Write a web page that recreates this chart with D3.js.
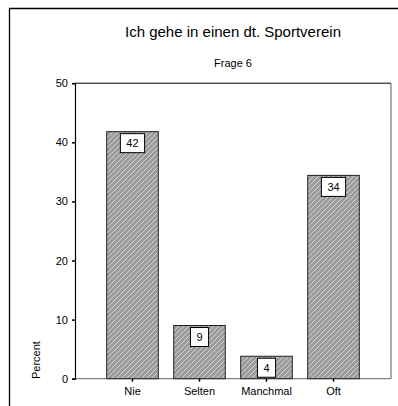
<!DOCTYPE html>
<html><head><meta charset="utf-8">
<script src="https://cdn.jsdelivr.net/npm/d3@7"></script>
<style>body{margin:0;background:#fff}svg{display:block}text{font-family:Arial,"Liberation Sans",sans-serif;fill:#000}</style>
</head><body>
<svg id="c" width="398" height="406"></svg>
<script>
const categories = ["Nie", "Selten", "Manchmal", "Oft"];
const values = [41.8, 9.0, 3.8, 34.4];
const labels = ["42", "9", "4", "34"];
const yTicks = [0, 10, 20, 30, 40, 50];
const title = "Ich gehe in einen dt. Sportverein";
const subtitle = "Frage 6";
const yLabel = "Percent";

const svg = d3.select("#c");
const L = 75, R = 391, T = 83.2, B = 378.7;

// outer frame
svg.append("path").attr("d", "M9.5,406 V8.5 H398").attr("fill","none").attr("stroke","#000").attr("stroke-width",1.3);

// hatch pattern ("/" stripes)
const defs = svg.append("defs");
const s = 5;
const pat = defs.append("pattern").attr("id","hatch").attr("patternUnits","userSpaceOnUse")
  .attr("width",s).attr("height",s);
pat.append("rect").attr("width",s).attr("height",s).attr("fill","#9c9c9c");
pat.append("path").attr("d",`M0,${s} L${s},0 M-1,1 L1,-1 M${s-1},${s+1} L${s+1},${s-1}`)
  .attr("stroke","#d8d8d8").attr("stroke-width",0.9);

const x = d3.scaleBand().domain(categories).range([L, R]).paddingInner(0.23).paddingOuter(0.473);
const y = d3.scaleLinear().domain([0, 50]).range([B, T]);

// title
svg.append("text").attr("x",233).attr("y",37).attr("text-anchor","middle").style("font-size","15px").text(title);
svg.append("text").attr("x",233).attr("y",67).attr("text-anchor","middle").style("font-size","11px").text(subtitle);

// plot frame: top black, right gray, bottom gray
svg.append("line").attr("x1",L).attr("x2",R).attr("y1",T).attr("y2",T).attr("stroke","#000").attr("stroke-width",1);
svg.append("line").attr("x1",R).attr("x2",R).attr("y1",T).attr("y2",B).attr("stroke","#808080").attr("stroke-width",1.3);
svg.append("line").attr("x1",L).attr("x2",R).attr("y1",B).attr("y2",B).attr("stroke","#808080").attr("stroke-width",1.3);

// bars
svg.selectAll("rect.bar").data(values).join("rect").attr("class","bar")
  .attr("x",(d,i)=>x(categories[i])).attr("width",x.bandwidth())
  .attr("y",d=>y(d)).attr("height",d=>B-y(d))
  .attr("fill","url(#hatch)").attr("stroke","#222").attr("stroke-width",1);

// value labels
const lg = svg.selectAll("g.lab").data(values).join("g").attr("class","lab");
lg.each(function(d,i){
  const g = d3.select(this);
  const cx = x(categories[i]) + x.bandwidth()/2;
  const t = g.append("text").attr("x",cx).attr("y",y(d)+15.5).attr("text-anchor","middle").style("font-size","11px").text(labels[i]);
  const w = t.node().getComputedTextLength() + 12;
  g.insert("rect","text").attr("x",cx-w/2).attr("y",y(d)+2).attr("width",w).attr("height",19)
    .attr("fill","#fff").attr("stroke","#000").attr("stroke-width",1);
});

// y axis
const yAxis = d3.axisLeft(y).tickValues(yTicks).tickSize(3).tickPadding(4);
const ya = svg.append("g").attr("transform",`translate(${L},0)`).call(yAxis);
ya.select(".domain").attr("stroke","#000").attr("stroke-width",1.2);
ya.selectAll(".tick line").attr("stroke","#000").attr("stroke-width",1.5);
ya.selectAll(".tick text").style("font-size","11px").style("font-family","Arial, 'Liberation Sans', sans-serif").attr("fill","#000");

// x axis
const xAxis = d3.axisBottom(x).tickSize(3).tickPadding(6);
const xa = svg.append("g").attr("transform",`translate(0,${B})`).call(xAxis);
xa.select(".domain").remove();
xa.selectAll(".tick line").attr("stroke","#000").attr("stroke-width",1.5);
xa.selectAll(".tick text").style("font-size","11px").style("font-family","Arial, 'Liberation Sans', sans-serif").attr("fill","#000");

// y label
svg.append("text").attr("transform","translate(40,379) rotate(-90)").attr("text-anchor","start").style("font-size","11px").text(yLabel);
</script>
</body></html>
